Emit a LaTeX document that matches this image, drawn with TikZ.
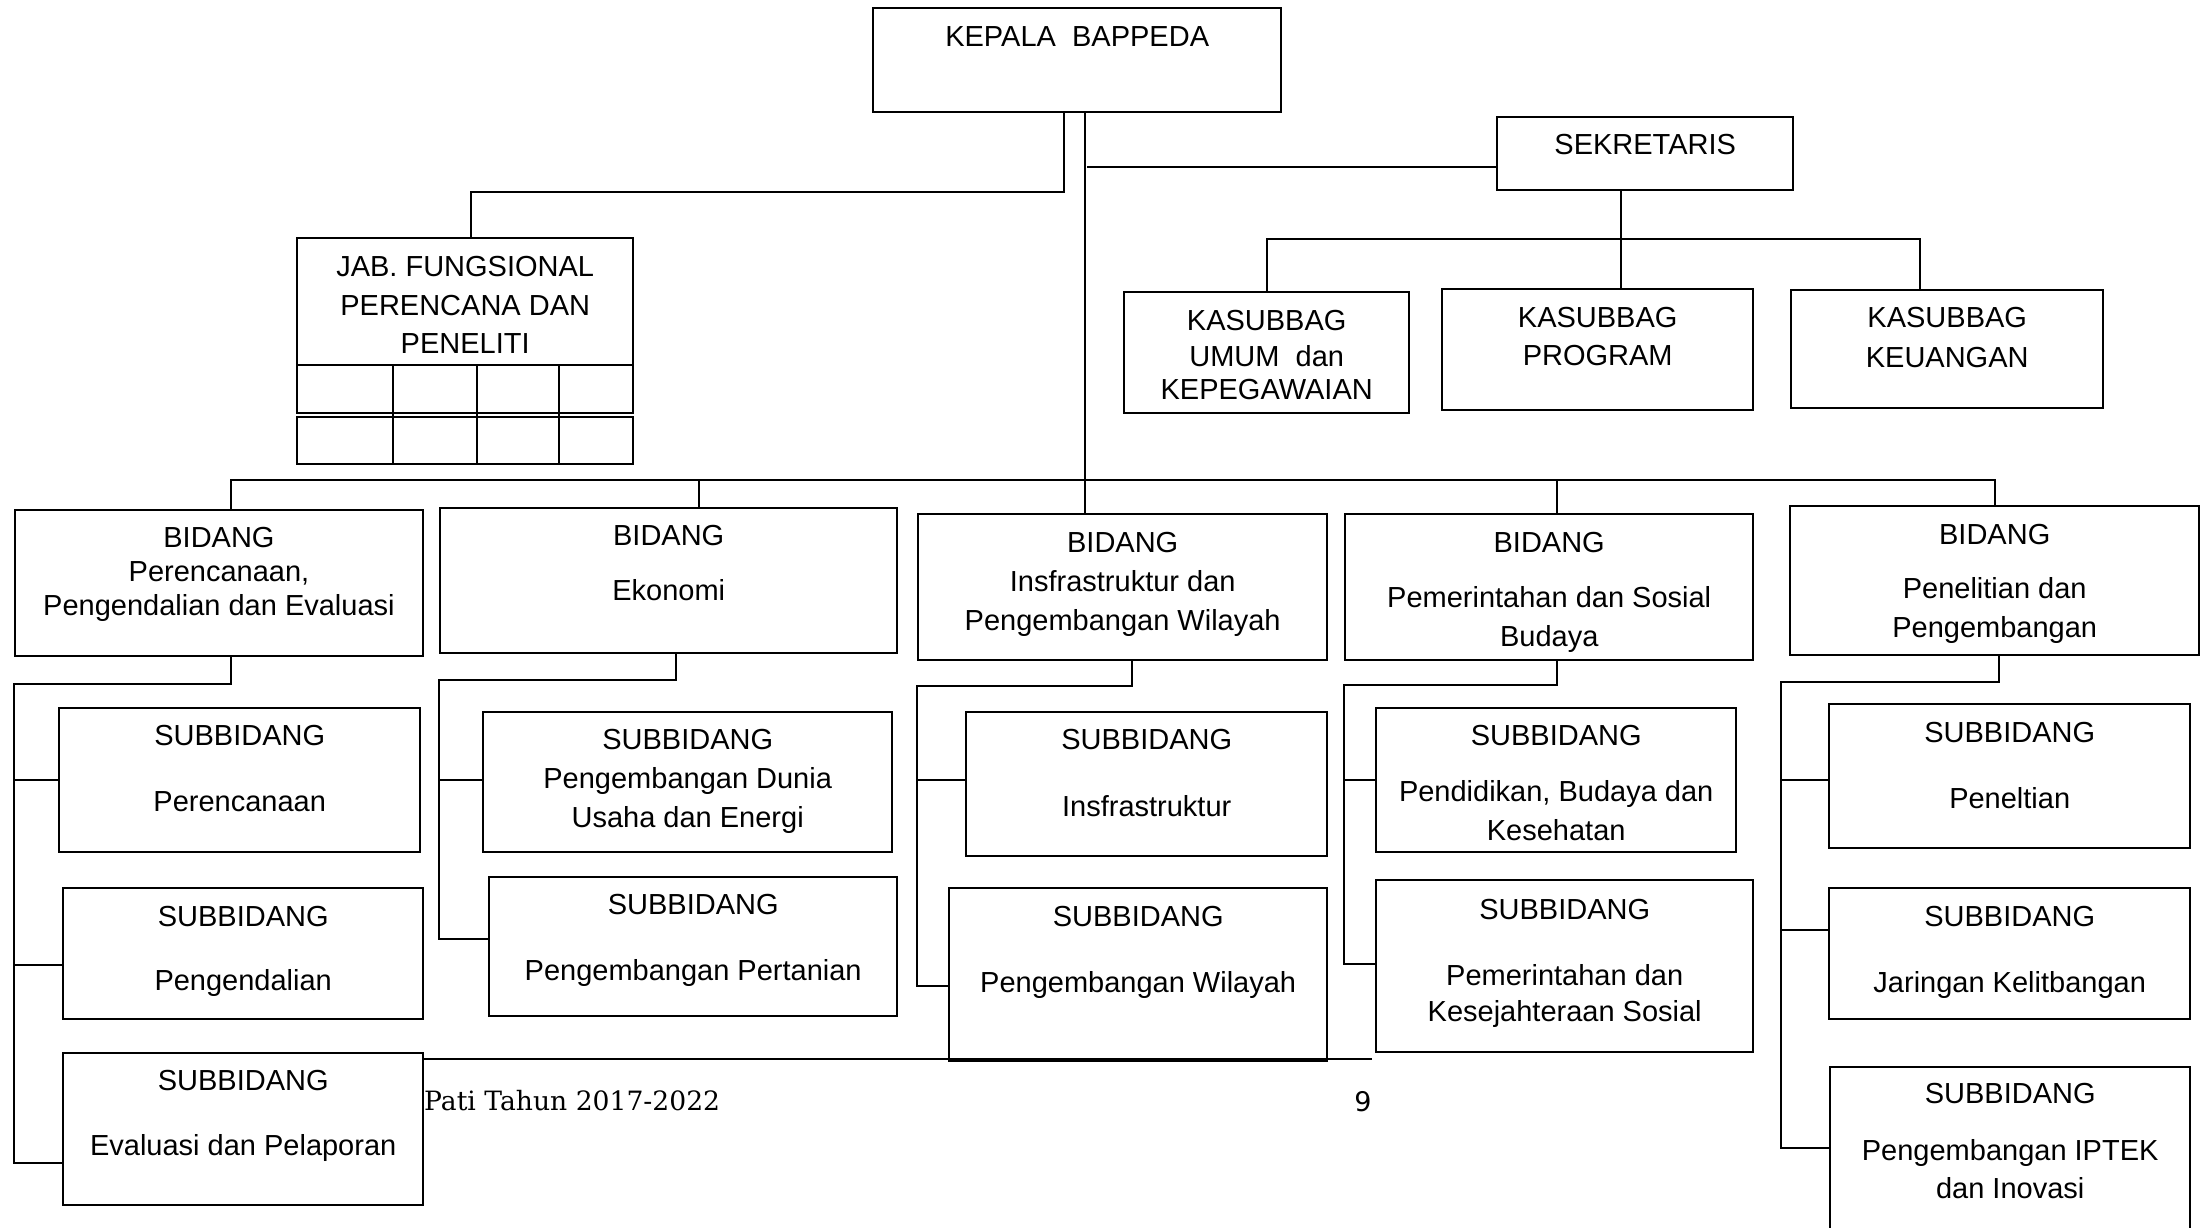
\documentclass[tikz,border=0pt]{standalone}
\usepackage{fontspec}
\setmainfont{Liberation Sans}
\newfontfamily\patifont{DejaVu Serif}
\newfontfamily\pagenumfont{DejaVu Sans}
\usetikzlibrary{calc}
\newcommand\orgbox[5]{\node[box, minimum width=#4pt, minimum height=#5pt] (#1) at (#2,#3) {};}
\begin{document}
\begin{tikzpicture}[x=1pt,y=-1pt,
  box/.style={draw, line width=2.4pt, rectangle, inner sep=0pt, anchor=north west},
  conn/.style={line width=2pt},
  txt/.style={font=\fontsize{29}{39}\selectfont, align=center, inner sep=0pt, anchor=north},
]
\useasboundingbox (0,0) rectangle (2201,1227);
\clip (0,0) rectangle (2201,1227);
% ---------- boxes ----------
\orgbox{kepala}{872}{7}{408}{104}
\orgbox{sek}{1496}{116}{296}{73}
\orgbox{jab}{296}{237}{336}{127}
\orgbox{jabra}{296}{364}{336}{48}
\orgbox{jabrb}{296}{416}{336}{47}
\orgbox{umum}{1123}{291}{285}{121}
\orgbox{prog}{1441}{288}{311}{121}
\orgbox{keu}{1790}{289}{312}{118}
\orgbox{bA}{13.5}{509}{408.5}{146}
\orgbox{bB}{439}{507}{457}{145}
\orgbox{bC}{917}{513}{409}{146}
\orgbox{bD}{1344}{513}{408}{146}
\orgbox{bE}{1789}{505}{409}{149}
\orgbox{sAa}{58}{707}{361}{144}
\orgbox{sAb}{62}{887}{360}{131}
\orgbox{sAc}{62}{1052}{360}{152}
\orgbox{sBa}{482}{711}{409}{140}
\orgbox{sBb}{488}{876}{408}{139}
\orgbox{sCa}{965}{711}{361}{144}
\orgbox{sCb}{948}{887}{378}{173}
\orgbox{sDa}{1375}{707}{360}{144}
\orgbox{sDb}{1375}{879}{377}{172}
\orgbox{sEa}{1828}{703}{361}{144}
\orgbox{sEb}{1828}{887}{361}{131}
\orgbox{sEc}{1829}{1066}{360}{194}
% grid columns of the fungsional box
\foreach \dx in {-72,12,94}{
  \draw[conn] ([xshift=\dx pt]jabra.north) -- ([xshift=\dx pt]jabrb.south);
}
% ---------- texts ----------
\node[txt] (tkepala) at (kepala.north |- 0,18.6) {\strut KEPALA\ \ BAPPEDA};
\node[txt] (tsek) at (sek.north |- 0,126.6) {\strut SEKRETARIS};
\node[txt] (tjab) at (jab.north |- 0,249) {\strut JAB. FUNGSIONAL\\PERENCANA DAN\\[-1pt]PENELITI};
\node[txt] (tumum) at (umum.north |- 0,303) {\strut KASUBBAG\\[-3.5pt]UMUM\ \ dan\\[-6pt]KEPEGAWAIAN};
\node[txt] (tprog) at (prog.north |- 0,300) {\strut KASUBBAG\\[-1pt]PROGRAM};
\node[txt] (tkeu) at (keu.north |- 0,300) {\strut KASUBBAG\\[1pt]KEUANGAN};
\node[txt] (tbA) at (bA.north |- 0,520) {\strut BIDANG\\[-5pt]Perencanaan,\\[-5.5pt]Pengendalian dan Evaluasi};
\node[txt] (tbB) at (bB.north |- 0,517.7) {\strut BIDANG\\[16.4pt]Ekonomi};
\node[txt] (tbC) at (bC.north |- 0,524.6) {\strut BIDANG\\[0.5pt]Insfrastruktur dan\\Pengembangan Wilayah};
\node[txt] (tbD) at (bD.north |- 0,524.6) {\strut BIDANG\\[16.5pt]Pemerintahan dan Sosial\\Budaya};
\node[txt] (tbE) at (bE.north |- 0,516.6) {\strut BIDANG\\[15.5pt]Penelitian dan\\Pengembangan};
\node[txt] (tsAa) at (sAa.north |- 0,718) {\strut SUBBIDANG\\[27pt]Perencanaan};
\node[txt] (tsAb) at (sAb.north |- 0,898.7) {\strut SUBBIDANG\\[25.4pt]Pengendalian};
\node[txt] (tsAc) at (sAc.north |- 0,1063) {\strut SUBBIDANG\\[26pt]Evaluasi dan Pelaporan};
\node[txt] (tsBa) at (sBa.north |- 0,722) {\strut SUBBIDANG\\Pengembangan Dunia\\Usaha dan Energi};
\node[txt] (tsBb) at (sBb.north |- 0,886.6) {\strut SUBBIDANG\\[27.5pt]Pengembangan Pertanian};
\node[txt] (tsCa) at (sCa.north |- 0,722) {\strut SUBBIDANG\\[28pt]Insfrastruktur};
\node[txt] (tsCb) at (sCb.north |- 0,899) {\strut SUBBIDANG\\[27pt]Pengembangan Wilayah};
\node[txt] (tsDa) at (sDa.north |- 0,718) {\strut SUBBIDANG\\[17pt]Pendidikan, Budaya dan\\Kesehatan};
\node[txt] (tsDb) at (sDb.north |- 0,891.7) {\strut SUBBIDANG\\[27.4pt]Pemerintahan dan\\[-3pt]Kesejahteraan Sosial};
\node[txt] (tsEa) at (sEa.north |- 0,715) {\strut SUBBIDANG\\[27pt]Peneltian};
\node[txt] (tsEb) at (sEb.north |- 0,898.6) {\strut SUBBIDANG\\[27.5pt]Jaringan Kelitbangan};
\node[txt] (tsEc) at (sEc.north |- 0,1076) {\strut SUBBIDANG\\[18pt]Pengembangan IPTEK\\[-1pt]dan Inovasi};
\node[anchor=base west, inner sep=0pt, font=\patifont\fontsize{26.6}{30}\selectfont] (pati) at (424,1110) {Pati Tahun 2017-2022};
\node[anchor=base, inner sep=0pt, font=\pagenumfont\fontsize{27}{30}\selectfont] (pnum) at (1363,1111) {9};
% ---------- connectors ----------
\draw[conn] ([xshift=-13pt]kepala.south) -- ++(0,79) -| ([xshift=6pt]jab.north);
\draw[conn] ([xshift=8pt]kepala.south) -- ([xshift=-37.5pt]bC.north);
\draw[conn] ([yshift=-13.5pt]sek.west) -- ++(-409,0);
\draw[conn] ([xshift=-24pt]sek.south) -- ([xshift=23.5pt]prog.north);
\draw[conn] (umum.north) -- ++(0,-52) -| ([xshift=-27pt]keu.north);
\draw[conn] ([xshift=12pt]bA.north) -- ++(0,-29) -| (bE.north);
\draw[conn] ([xshift=30.5pt]bB.north) -- ++(0,-27);
\draw[conn] ([xshift=8pt]bD.north) -- ++(0,-33);
% subtree A
\draw[conn] ([xshift=12pt]bA.south) -- ++(0,27) -| ([yshift=-34pt]sAc.west -| bA.west) -- ([yshift=-34pt]sAc.west);
\draw[conn] (sAa.west -| bA.west) -- (sAa.west);
\draw[conn] ([yshift=-11.5pt]sAb.west -| bA.west) -- ([yshift=-11.5pt]sAb.west);
% subtree B
\draw[conn] ([xshift=7.5pt]bB.south) -- ++(0,26) -| ([yshift=7.5pt]sBb.west -| bB.west) -- ([yshift=7.5pt]sBb.west);
\draw[conn] ([yshift=2pt]sBa.west -| bB.west) -- ([yshift=2pt]sBa.west);
% subtree C
\draw[conn] ([xshift=9.5pt]bC.south) -- ++(0,25) -| ([yshift=-11.5pt]sCb.west -| bC.west) -- ([yshift=-11.5pt]sCb.west);
\draw[conn] ([yshift=4pt]sCa.west -| bC.west) -- ([yshift=4pt]sCa.west);
% subtree D
\draw[conn] ([xshift=8pt]bD.south) -- ++(0,24) -| ([yshift=2pt]sDb.west -| bD.west) -- ([yshift=2pt]sDb.west);
\draw[conn] (sDa.west -| bD.west) -- (sDa.west);
% subtree E
\coordinate (spE) at ([xshift=-8pt]bE.west);
\draw[conn] ([xshift=4.5pt]bE.south) -- ++(0,26) -| ([yshift=16pt]sEc.west -| spE) -- ([yshift=16pt]sEc.west);
\draw[conn] ([yshift=-4pt]sEa.west -| spE) -- ([yshift=-4pt]sEa.west);
\draw[conn] ([yshift=23.5pt]sEb.west -| spE) -- ([yshift=23.5pt]sEb.west);
% footer rule
\draw[conn] ([yshift=-7pt]sAc.north east) -- ++(948,0);
\end{tikzpicture}
\end{document}
